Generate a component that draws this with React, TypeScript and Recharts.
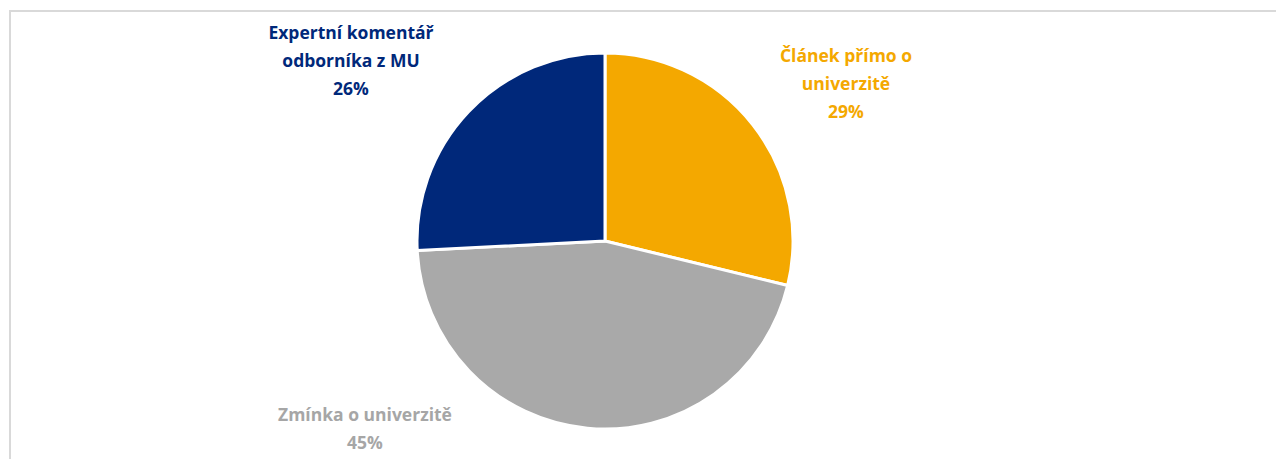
import { PieChart, Pie, Cell } from 'recharts';

const categories = ['Článek přímo o univerzitě', 'Zmínka o univerzitě', 'Expertní komentář odborníka z MU'];
const shares = [28.8, 45.4, 25.8];
const labelLines = [
  ['Článek přímo o', 'univerzitě'],
  ['Zmínka o univerzitě'],
  ['Expertní komentář', 'odborníka z MU'],
];
const colors = ['#f4a800', '#a9a9a9', '#00287a'];
const labelColors = ['#f4a800', '#a6a6a6', '#00287a'];

// label anchor (first baseline) relative to the pie centre
const labelOffsets = [
  [241, -179],
  [-240, 180],
  [-254, -202],
];

const chartData = categories.map((name, i) => ({ name, value: shares[i] }));

const renderLabel = (props: any) => {
  const { cx, cy, index } = props;
  const [dx, dy] = labelOffsets[index];
  const lines = [...labelLines[index], `${Math.round(shares[index])}%`];
  return (
    <text
      x={cx + dx}
      y={cy + dy}
      textAnchor="middle"
      fill={labelColors[index]}
      fontFamily="'Open Sans', sans-serif"
      fontWeight={700}
      fontSize={17.5}
    >
      {lines.map((line, i) => (
        <tspan key={i} x={cx + dx} dy={i === 0 ? 0 : 28}>
          {line}
        </tspan>
      ))}
    </text>
  );
};

export default function App() {
  return (
    <div style={{ position: 'relative', width: 1276, height: 451, overflow: 'hidden' }}>
      <div
        style={{
          position: 'absolute',
          left: 1,
          top: 2,
          width: 1300,
          height: 500,
          borderLeft: '2px solid #d9d9d9',
          borderTop: '2px solid #d9d9d9',
        }}
      />
      <div style={{ position: 'absolute', left: -8, top: -8 }}>
        <PieChart width={1284} height={459} margin={{ top: 0, right: 0, bottom: 0, left: 0 }}>
          <Pie
            data={chartData}
            dataKey="value"
            nameKey="name"
            cx={605}
            cy={241}
            outerRadius={188}
            startAngle={90}
            endAngle={-270}
            stroke="#ffffff"
            strokeWidth={3}
            label={renderLabel}
            labelLine={false}
            isAnimationActive={false}
          >
            {chartData.map((entry, i) => (
              <Cell key={entry.name} fill={colors[i]} />
            ))}
          </Pie>
        </PieChart>
      </div>
    </div>
  );
}
